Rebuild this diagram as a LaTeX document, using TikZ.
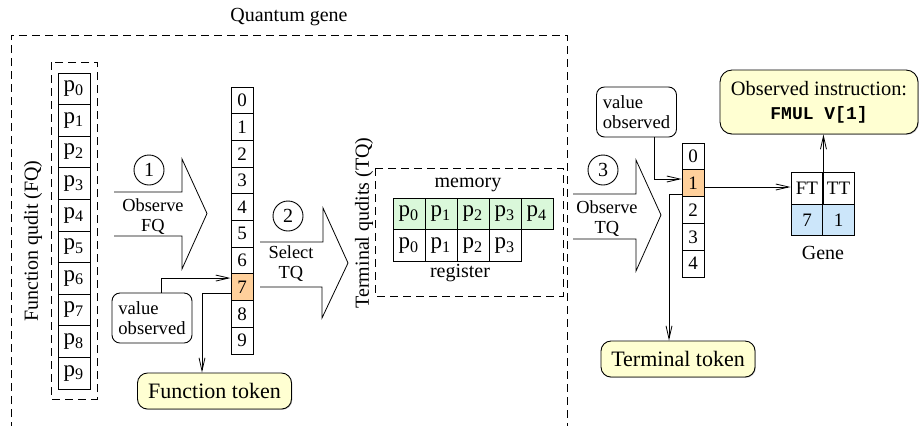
\documentclass[tikz,border=0pt]{standalone}
\usepackage{fontspec}
\setmainfont{Liberation Serif}
\setmonofont{Liberation Mono}
\usepackage{xcolor}
\usepackage{tikz}
\usetikzlibrary{shapes,arrows.meta,positioning,calc,shadows}

\definecolor{obsorange}{RGB}{255,208,155}
\definecolor{memgreen}{RGB}{218,248,218}
\definecolor{geneblue}{RGB}{204,230,250}
\definecolor{tokyellow}{RGB}{255,255,210}

\begin{document}
\begin{tikzpicture}[
    x=0.5pt, y=-0.5pt,
    line width=0.45pt,
    pcell/.style={rectangle, draw, inner sep=0pt, minimum width=16pt, minimum height=15.8pt, font=\fontsize{11.5}{12}\selectfont},
    vcell/.style={rectangle, draw, inner sep=0pt, minimum width=11pt, minimum height=13.4pt, font=\fontsize{9.5}{10}\selectfont},
    gcell/.style={rectangle, draw, inner sep=0pt, minimum width=16pt, minimum height=15.75pt, font=\fontsize{9.5}{10}\selectfont},
    stepnum/.style={circle, draw, minimum size=15pt, inner sep=0pt, font=\fontsize{10}{10}\selectfont},
    lbl/.style={font=\fontsize{10}{11}\selectfont},
    small/.style={align=center, font=\fontsize{9.2}{10}\selectfont},
    valbox/.style={rectangle, draw, rounded corners=4pt, minimum width=40pt, minimum height=25pt, align=left, inner sep=1pt, font=\fontsize{9.3}{10.2}\selectfont},
    token/.style={rectangle, draw, rounded corners=5pt, fill=tokyellow, minimum width=77pt, minimum height=18pt, font=\fontsize{11}{12}\selectfont, drop shadow={shadow xshift=0.4pt, shadow yshift=-0.4pt, fill=black!50}},
    groupbox/.style={line width=0.4pt, dash pattern=on 4pt off 2.5pt},
    bigarrow/.style={line width=0.4pt, line join=miter},
    ptr/.style={line width=0.4pt, -{Straight Barb[length=6.5pt, width=3pt, line width=0.4pt]}}
]
    \useasboundingbox (0,0) rectangle (919,425);

    % Quantum gene frame (runs off the bottom)
    \node[lbl] (qgene) at (289,17) {Quantum gene};
    \draw[groupbox] (11,430) |- (567,35) -- (567,430);

    % Function qudit
    \node[lbl, rotate=90] (fqlabel) at (33,241) {Function qudit (FQ)};
    \draw[groupbox] (51,62) rectangle (97,399);
    \foreach \i in {0,...,9} {
        \node[pcell] (fq\i) at (74, 88.8+31.6*\i) {p\textsubscript{\i}};
    }

    % Step 1
    \draw[bigarrow] (114,192) -- (182,192) -- (182,159) -- (207,213.5) -- (182,269) -- (182,236) -- (114,236);
    \node[stepnum] (s1) at (149,170) {1};
    \node[small] (t1) at (153,217) {Observe\\FQ};

    % Function values
    \foreach \i in {0,...,6,8,9} {
        \node[vcell] (fv\i) at (242, 100.35+26.7*\i) {\i};
    }
    \node[vcell, fill=obsorange] (fv7) at (242, 287.25) {7};

    \node[valbox] (obs1) at (152,318) {value\\observed};
    \node[token] (ftok) at (214.5,391) {Function token};

    \draw[ptr] ([xshift=4.5pt]obs1.north) |- ([yshift=4.6pt]fv7.west);
    \draw[ptr] ([yshift=-2.9pt]fv7.west) -| ([xshift=-6.25pt]ftok.north);

    % Step 2
    \draw[bigarrow] (260,242) -- (323,242) -- (323,208) -- (348,263) -- (322,318) -- (322,287) -- (260,287);
    \node[stepnum] (s2) at (288,216) {2};
    \node[small] (t2) at (291,263.5) {Select\\TQ};

    % Terminal qudits
    \node[lbl, rotate=90] (tqlabel) at (364,223) {Terminal qudits (TQ)};
    \draw[groupbox] (375,168) rectangle (563,296);
    \node[lbl] (memlabel) at (468,185) {memory};
    \foreach \i in {0,...,4} {
        \node[pcell, fill=memgreen] (mem\i) at (409+32*\i, 214) {p\textsubscript{\i}};
    }
    \foreach \i in {0,...,3} {
        \node[pcell] (reg\i) at (409+32*\i, 245.5) {p\textsubscript{\i}};
    }
    \node[lbl] (reglabel) at (460,273) {register};

    % Step 3
    \draw[bigarrow] (573,194) -- (636,194) -- (636,160) -- (661,215) -- (636,271) -- (636,239) -- (573,239);
    \node[stepnum] (s3) at (603,170) {3};
    \node[small] (t3) at (607,219) {Observe\\TQ};

    % Terminal values
    \foreach \i in {0,2,3,4} {
        \node[vcell] (tv\i) at (693, 156.4+26.8*\i) {\i};
    }
    \node[vcell, fill=obsorange] (tv1) at (693, 183.2) {1};

    \node[valbox] (obs2) at (636.5,112) {value\\observed};
    \node[token] (ttok) at (678,359) {Terminal token};

    \draw[ptr] ([xshift=8.75pt]obs2.south) |- ([yshift=2.1pt]tv1.west);
    \draw[ptr] ([yshift=-5.4pt]tv1.west) -| ([xshift=-4.5pt]ttok.north);

    % Gene
    \node[gcell] (ft) at (807,188.5) {FT};
    \node[gcell] (tt) at (838.5,188.5) {TT};
    \node[gcell, fill=geneblue] (fval) at (807,220) {7};
    \node[gcell, fill=geneblue] (tval) at (838.5,220) {1};
    \node[lbl] (genelabel) at (823,253) {Gene};

    \node[token, rounded corners=6pt, minimum width=99pt, minimum height=32pt, align=center, font=\fontsize{10.2}{12}\selectfont] (instr) at (819,102)
        {Observed instruction:\\{\fontsize{9}{12}\selectfont\texttt{\textbf{FMUL V[1]}}}};

    \coordinate (tvout) at ([yshift=-1.9pt]tv1.east);
    \draw[ptr] (tvout) -- (tvout -| ft.west);
    \draw[ptr] (ft.north east) -- (ft.north east |- instr.south);
\end{tikzpicture}
\end{document}
